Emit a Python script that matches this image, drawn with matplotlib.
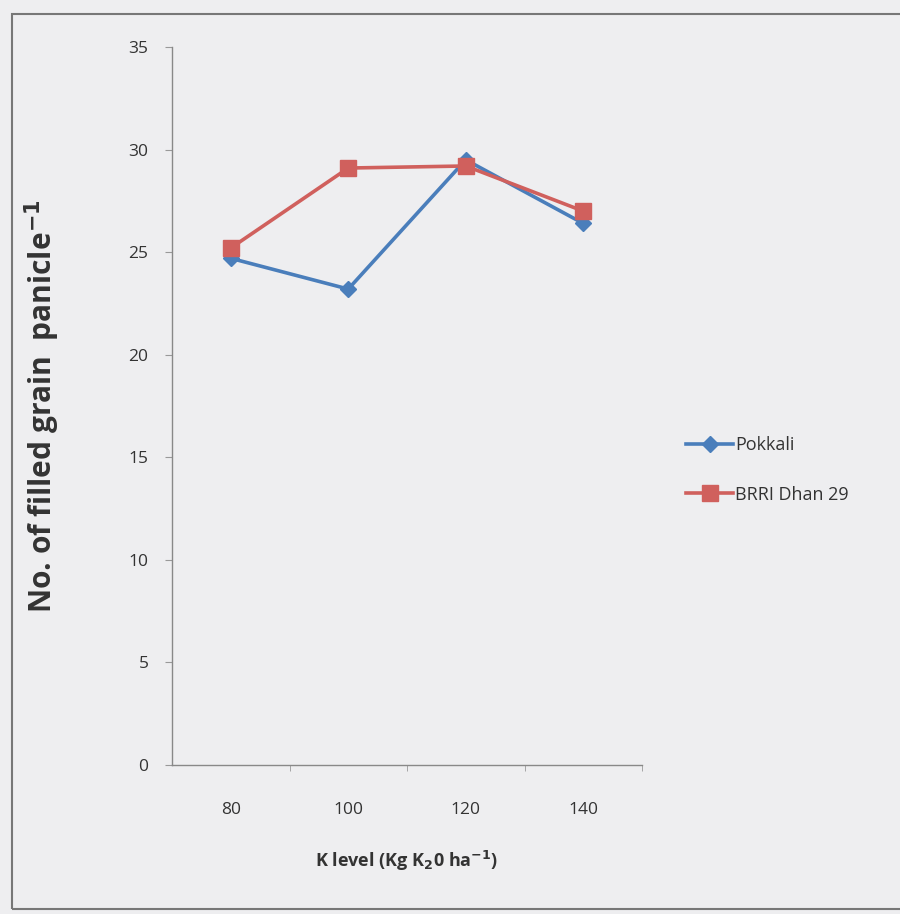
import matplotlib.pyplot as plt
import numpy as np
from matplotlib.patches import Rectangle

k_levels = ["80", "100", "120", "140"]
pokkali = [24.7, 23.2, 29.5, 26.4]
brri = [25.2, 29.1, 29.2, 27.0]
y_ticks = [0, 5, 10, 15, 20, 25, 30, 35]

plt.rcParams['font.family'] = ['Open Sans', 'DejaVu Sans']
plt.rcParams['axes.unicode_minus'] = False

fig = plt.figure(figsize=(9, 9.14), dpi=100)
fig.patch.set_facecolor('#eeeef0')
fig.add_artist(Rectangle((12 / 900, 0.005), 0.99, 1 - 14 / 914 - 0.005,
                         transform=fig.transFigure, fill=False,
                         edgecolor='#777777', linewidth=1.5))

ax = fig.add_axes([172 / 900, 149 / 914, 470 / 900, 718 / 914])
ax.set_facecolor('none')

x = np.arange(len(k_levels))
ax.plot(x, pokkali, color='#4a7ebb', linewidth=2.6, marker='D', markersize=8,
        label='Pokkali')
ax.plot(x, brri, color='#d0605d', linewidth=2.6, marker='s', markersize=11,
        label='BRRI Dhan 29')

ax.set_xlim(-0.5, len(k_levels) - 0.5)
ax.set_ylim(0, 35)
ax.set_yticks(y_ticks)
ax.set_xticks(x)
ax.set_xticklabels(k_levels)
ax.set_xticks(np.arange(len(k_levels)) + 0.5, minor=True)
ax.tick_params(axis='x', which='major', length=0, pad=27, labelsize=12.5,
               colors='#333333')
ax.tick_params(axis='x', which='minor', length=4, color='#999999')
ax.tick_params(axis='y', length=5, color='#999999', labelsize=12.5,
               colors='#999999', labelcolor='#333333', pad=12)

for s in ['top', 'right']:
    ax.spines[s].set_visible(False)
for s in ['left', 'bottom']:
    ax.spines[s].set_color('#888888')
    ax.spines[s].set_linewidth(1)

ax.set_ylabel('No. of filled grain  panicle$^{\\mathbf{-1}}$', fontsize=21.5,
              fontweight='bold', color='#333333', labelpad=48)
ax.set_xlabel('K level (Kg K$_{\\mathbf{2}}$0 ha$^{\\mathbf{-1}}$)', fontsize=13,
              fontweight='bold', color='#333333', labelpad=22)

ax.legend(loc='center left', bbox_to_anchor=(1.06, 0.411), frameon=False,
          fontsize=13, handlelength=2.6, labelspacing=1.75, handletextpad=0.1,
          labelcolor='#333333')

fig.savefig('out.png', dpi=100, facecolor=fig.get_facecolor())
